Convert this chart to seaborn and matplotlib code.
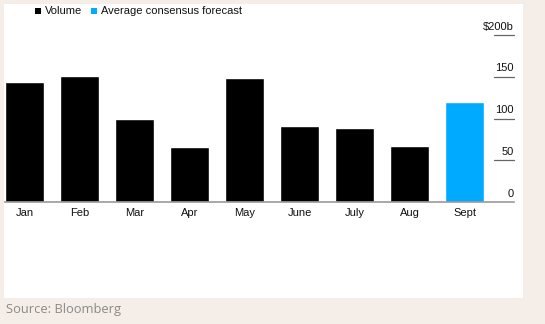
import matplotlib
matplotlib.use("Agg")
import matplotlib.pyplot as plt
import seaborn as sns
import pandas as pd
from matplotlib.patches import Rectangle

months = ["Jan", "Feb", "Mar", "Apr", "May", "June", "July", "Aug", "Sept"]
volumes = [144, 151, 99, 66, 148, 91, 89, 67, 120]
kinds = ["Volume"] * 8 + ["Average consensus forecast"]
yticks = [0, 50, 100, 150, 200]
ytick_labels = ["0", "50", "100", "150", "$200b"]

df = pd.DataFrame({"month": months, "volume": volumes, "kind": kinds})
palette = {"Volume": "#000000", "Average consensus forecast": "#00aaff"}

sns.set_theme(style="white")
plt.rcParams["font.family"] = ["Liberation Sans", "DejaVu Sans"]

W, H = 545, 324
fig = plt.figure(figsize=(W / 100, H / 100), dpi=100)
fig.patch.set_facecolor("#f5eee8")
fig.patches.append(Rectangle((4 / W, 1 - 298 / H), 519 / W, 294 / H,
                             transform=fig.transFigure, facecolor="white",
                             edgecolor="none", zorder=-10))

ax = fig.add_axes([5 / W, 1 - 202 / H, 509 / W, 167 / H])
ax.set_facecolor("none")
ax.set_zorder(5)
sns.barplot(data=df, x="month", y="volume", hue="kind", palette=palette,
            dodge=False, width=0.7, ax=ax, legend=False, saturation=1)
ax.set_xlim(-0.355, 8.9)
ax.set_ylim(0, 200)
for s in ["top", "right", "left"]:
    ax.spines[s].set_visible(False)
ax.spines["bottom"].set_color("#999999")
ax.spines["bottom"].set_linewidth(1.2)
ax.set_yticks([])
ax.set_xlabel("")
ax.set_ylabel("")
ax.tick_params(axis="x", length=0, pad=4, labelsize=8, colors="#111111")

for v, lab in zip(yticks, ytick_labels):
    if v > 0:
        ax.axhline(v, xmin=(494 - 5) / 509, xmax=1.0, color="#666666", lw=0.9, clip_on=False)
    ax.text(1.0, v + 4, lab, transform=ax.get_yaxis_transform(), ha="right",
            va="bottom", fontsize=8, color="#111111", clip_on=False)

# legend
fig.patches.append(Rectangle((35 / W, 1 - 14 / H), 6 / W, 6 / H, transform=fig.transFigure,
                             facecolor="#000000", edgecolor="none"))
fig.text(45 / W, 1 - 11 / H, "Volume", ha="left", va="center", fontsize=8, color="#111111")
fig.patches.append(Rectangle((91 / W, 1 - 14 / H), 6 / W, 6 / H, transform=fig.transFigure,
                             facecolor="#00aaff", edgecolor="none"))
fig.text(101 / W, 1 - 11 / H, "Average consensus forecast", ha="left", va="center",
         fontsize=8, color="#111111")

fig.text(6 / W, 1 - 310 / H, "Source: Bloomberg", ha="left", va="center",
         fontsize=9.3, color="#8a8a8a", family=["Open Sans", "DejaVu Sans"])

fig.savefig("out.png", dpi=100, facecolor=fig.get_facecolor())
